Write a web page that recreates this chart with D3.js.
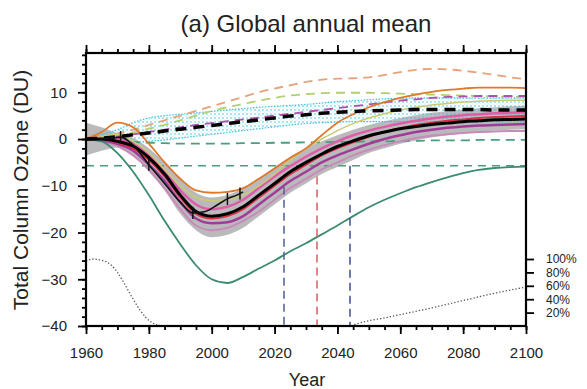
<!DOCTYPE html>
<html>
<head>
<meta charset="utf-8">
<script src="https://cdn.jsdelivr.net/npm/d3@7"></script>
<style>
  body { margin: 0; background: #fff; }
  text { font-family: "Liberation Sans", Arial, sans-serif; fill: #222; }
</style>
</head>
<body>
<div id="chart"></div>
<script>
// year grid used by the model curves
const years = [1960,1965,1970,1975,1980,1985,1990,1995,2000,2005,2010,2015,2020,2025,2030,
  2035,2040,2045,2050,2055,2060,2065,2070,2075,2080,2085,2090,2095,2100];

// multi-model mean (black solid) and its spread (grey band)
const meanVals = [0,0,-0.5,-1.5,-4,-7.5,-12,-15.5,-16.5,-16,-14.5,-12,-9.5,-7,-5,-3.2,-1.6,-0.4,0.7,1.5,2.2,2.7,3.1,3.4,3.7,3.9,4.1,4.2,4.3];
const bandLo = [-3.5,-2.5,-1.8,-3.5,-7,-11,-16,-19.5,-21,-20.5,-19,-16.5,-14,-11.5,-9.5,-7.5,-6,-4.5,-3,-2,-1,-0.3,0.3,0.8,1.2,1.5,1.8,2,2.1];
const bandHi = [3.5,2.5,1.2,0.2,-2,-5,-8.5,-11.5,-12.5,-12,-10.5,-8.5,-6,-3.8,-2,-0.5,0.8,2,3,3.8,4.5,5.1,5.6,6,6.3,6.6,6.8,7,7.1];

// individual model curves (solid)
const orangeVals = [0,1.5,3.5,2.5,-1,-5,-8.5,-11,-11.5,-11.3,-10.5,-8.5,-6.3,-4,-2,0.8,3.5,5.3,6.8,7.9,8.8,9.5,10.1,10.5,10.8,11,11,11,10.9];
const oliveVals = [0,0.5,1,-0.5,-3,-6.5,-10,-12.5,-13.2,-13,-12,-10,-7.5,-4.5,-2,0,1.8,3.3,4.5,5.4,6.2,6.8,7.3,7.6,7.9,8.1,8.2,8.3,8.3];
const pinkVals = [0,0.3,0,-1,-3.5,-7,-11,-14,-15,-14.5,-13,-10.5,-8,-5.8,-3.8,-2,-0.5,0.8,1.8,2.6,3.3,3.9,4.4,4.8,5.1,5.3,5.5,5.6,5.7];
const purpleVals = [0,-0.3,-1,-2.5,-5.5,-9,-13.5,-17,-18,-17.8,-16.5,-14,-11.5,-9,-7,-5,-3.5,-2.2,-1,0,0.8,1.5,2,2.4,2.7,2.9,3,3.1,3.2];
const redVals = [0,0,-0.8,-2,-4.5,-8,-12.5,-16,-17,-16.5,-15,-12.5,-10,-7.5,-5.5,-3.5,-2,-0.7,0.5,1.5,2.3,3,3.5,3.9,4.2,4.5,4.7,4.8,4.9];
const mauveVals = [0,-0.5,-1.5,-3.5,-6.5,-10.5,-15,-18.5,-19.5,-19,-17.5,-15.5,-13,-10.5,-8.5,-6.5,-5,-3.5,-2.3,-1.3,-0.5,0.2,0.7,1,1.3,1.5,1.6,1.7,1.7];
const tealVals = [0,-0.5,-3,-7,-12,-17.5,-22.5,-27,-30,-30.8,-29.5,-27.7,-26,-24,-22.3,-20.4,-18.5,-16.5,-14.6,-13,-11.6,-10.3,-9.2,-8.2,-7.3,-6.6,-6.2,-6,-5.9];

// dashed curves
const meanDashVals = [0,0.2,0.5,0.9,1.3,1.7,2.1,2.5,2.9,3.3,3.7,4.1,4.5,4.9,5.2,5.5,5.7,5.9,6,6.1,6.2,6.3,6.3,6.3,6.3,6.3,6.2,6.2,6.2];
const orangeDashVals = [0,0.5,1.2,2,3,4,5,6,7,8,9,10,10.8,11.5,12.2,12.7,12.9,13,13.2,13.7,14.3,14.8,15,14.9,14.6,14.2,13.7,13.2,12.8];
const greenDashVals = [0,0.3,0.8,1.4,2.2,3,4,5,6,6.8,7.5,8.2,8.8,9.3,9.6,9.8,9.9,9.9,9.9,9.8,9.7,9.6,9.5,9.4,9.3,9.2,9.1,9,9];
const purpleDashVals = [0,0.2,0.5,1,1.5,2,2.5,3,3.4,3.8,4.2,4.6,5,5.4,5.8,6.2,6.6,7,7.4,7.8,8.2,8.5,8.8,9,9.1,9.2,9.2,9.2,9.2];
const tealDashVals = [0,0,-0.3,-0.6,-0.8,-0.9,-1,-1,-1,-1,-0.9,-0.9,-0.8,-0.8,-0.7,-0.7,-0.6,-0.6,-0.5,-0.5,-0.4,-0.4,-0.3,-0.3,-0.3,-0.2,-0.2,-0.2,-0.2];

// cyan stippled range around dashed mean
const cyanLo = [0,-0.5,-1,-0.8,-0.5,-0.2,0.2,0.6,1,1.4,1.8,2.2,2.6,3,3.3,3.5,3.6,3.7,3.7,3.7,3.7,3.7,3.7,3.7,3.7,3.7,3.7,3.7,3.7];
const cyanHi = [0,1,2,3.5,4.5,5,5.3,5.6,5.9,6.2,6.5,6.8,7,7.2,7.4,7.7,8,8.2,8.4,8.6,8.7,8.8,8.8,8.8,8.8,8.8,8.8,8.8,8.8];

// 1980 reference level and return dates
const refYears = [1960, 2100];
const refVals = [-5.7, -5.7];
const returnYears = [2023, 2033.5, 2044];
const returnTop = [-10.2, -8, -5.7];

// observations
const obsYears = [1964,1968,1971,1975,1980,1985,1990,1994,1998,2002,2005,2008,2010];
const obsVals = [0,0.2,0.4,-1.3,-5.5,-9.5,-13.5,-15.8,-15.5,-14,-12.8,-12,-11.3];
const obsBarYears = [1971,1980,1994,2005,2009];

// dotted lines on the percent axis
const pctYearsL = [1960,1962,1965,1968,1970,1972,1975,1977,1979,1981,1983,1985,1988];
const pctValsL = [97,100,98,91,80,65,40,25,13,5,1,0,0];
const pctYearsR = [2036,2044,2046,2050,2055,2060,2070,2080,2090,2100];
const pctValsR = [0,0,3,8,12,17,27,38,49,58];

const yTicks = [-40,-30,-20,-10,0,10];
const xTicks = [1960,1980,2000,2020,2040,2060,2080,2100];
const pctTicks = [20,40,60,80,100];

const W = 587, H = 389;
const margin = {top: 53, right: 61, bottom: 63, left: 86};
const iw = W - margin.left - margin.right;
const ih = H - margin.top - margin.bottom;

const svg = d3.select('#chart').append('svg').attr('width', W).attr('height', H);
const g = svg.append('g').attr('transform', `translate(${margin.left},${margin.top})`);

const x = d3.scaleLinear().domain([1960, 2100]).range([0, iw]);
const y = d3.scaleLinear().domain([-40, 18.4]).range([ih, 0]);
const yPct = d3.scaleLinear().domain([0, 100]).range([ih, y(-25.67)]);

// pattern for the cyan stipple
const defs = svg.append('defs');
const pat = defs.append('pattern').attr('id', 'stip').attr('width', 4).attr('height', 4)
  .attr('patternUnits', 'userSpaceOnUse');
pat.append('circle').attr('cx', 1).attr('cy', 1).attr('r', 0.9).attr('fill', '#38c4e4');
pat.append('circle').attr('cx', 3).attr('cy', 3).attr('r', 0.7).attr('fill', '#9adcef');
defs.append('clipPath').attr('id', 'clip').append('rect').attr('width', iw).attr('height', ih);

const plot = g.append('g').attr('clip-path', 'url(#clip)');

const line = (xs, vs) => d3.line().curve(d3.curveMonotoneX)
  .x((d, i) => x(xs[i])).y(d => y(d))(vs);
const band = (lo, hi) => d3.area().curve(d3.curveMonotoneX)
  .x((d, i) => x(years[i])).y0((d, i) => y(lo[i])).y1((d, i) => y(hi[i]))(lo);

// grey spread
plot.append('path').attr('d', band(bandLo, bandHi)).attr('fill', '#a9a9ad').attr('opacity', 0.8);

// cyan stipple range
plot.append('path').attr('d', band(cyanLo, cyanHi)).attr('fill', 'url(#stip)').attr('opacity', 0.65);
[cyanLo, cyanHi].forEach(vs => {
  plot.append('path').attr('d', line(years, vs)).attr('fill', 'none')
    .attr('stroke', '#40bedc').attr('stroke-width', 1.2).attr('stroke-dasharray', '1.5,1.5');
});

// dashed model curves
const dashed = [
  {v: orangeDashVals, c: '#e6a27a'},
  {v: greenDashVals, c: '#b0d070'},
  {v: purpleDashVals, c: '#b050a8'},
  {v: tealDashVals, c: '#4a9e7c'}
];
dashed.forEach(s => {
  plot.append('path').attr('d', line(years, s.v)).attr('fill', 'none')
    .attr('stroke', s.c).attr('stroke-width', 1.8).attr('stroke-dasharray', '9,6');
});

// reference (1980) level
plot.append('path').attr('d', line(refYears, refVals)).attr('fill', 'none')
  .attr('stroke', '#4a9e7c').attr('stroke-width', 1.5).attr('stroke-dasharray', '8,6');

// solid model curves
const solids = [
  {v: mauveVals, c: '#c88ab8', w: 2},
  {v: purpleVals, c: '#a03c98', w: 2.5},
  {v: redVals, c: '#d83048', w: 2},
  {v: pinkVals, c: '#e05ca8', w: 2.5},
  {v: oliveVals, c: '#c8cc70', w: 1.5},
  {v: orangeVals, c: '#e0782c', w: 1.8},
  {v: tealVals, c: '#3a8c6c', w: 1.8}
];
solids.forEach(s => {
  plot.append('path').attr('d', line(years, s.v)).attr('fill', 'none')
    .attr('stroke', s.c).attr('stroke-width', s.w);
});

// return-date markers
const retColors = ['#5a6898', '#d86a6a', '#4a5a94'];
returnYears.forEach((yr, i) => {
  plot.append('line').attr('x1', x(yr)).attr('x2', x(yr))
    .attr('y1', y(returnTop[i])).attr('y2', y(-40))
    .attr('stroke', retColors[i]).attr('stroke-width', 1.6).attr('stroke-dasharray', '8,5');
});

// black dashed and solid means
plot.append('path').attr('d', line(years, meanDashVals)).attr('fill', 'none')
  .attr('stroke', '#000').attr('stroke-width', 3.5).attr('stroke-dasharray', '11,7');
plot.append('path').attr('d', line(years, meanVals)).attr('fill', 'none')
  .attr('stroke', '#000').attr('stroke-width', 3);

// observations
plot.append('path').attr('d', line(obsYears, obsVals)).attr('fill', 'none')
  .attr('stroke', '#111').attr('stroke-width', 1.6);
const obsInterp = d3.scaleLinear().domain(obsYears).range(obsVals);
obsBarYears.forEach(yr => {
  plot.append('line').attr('x1', x(yr)).attr('x2', x(yr))
    .attr('y1', y(obsInterp(yr) - 1.3)).attr('y2', y(obsInterp(yr) + 1.3))
    .attr('stroke', '#111').attr('stroke-width', 1.5);
});

// dotted percent curves
[[pctYearsL, pctValsL], [pctYearsR, pctValsR]].forEach(([xs, vs]) => {
  plot.append('path')
    .attr('d', d3.line().curve(d3.curveMonotoneX).x((d, i) => x(xs[i])).y(d => yPct(d))(vs))
    .attr('fill', 'none').attr('stroke', '#555').attr('stroke-width', 1.3)
    .attr('stroke-dasharray', '1.3,2');
});

// axes
const styleAxis = (sel, fs) => {
  sel.select('.domain').remove();
  sel.selectAll('line').attr('stroke', '#000').attr('stroke-width', 1.8);
  sel.selectAll('text').style('font-size', fs).attr('fill', '#222');
};
g.append('g').call(d3.axisLeft(y).tickValues(d3.range(-40, 19, 2)).tickSize(4).tickFormat(''))
  .call(s => styleAxis(s, '15px'));
g.append('g').call(d3.axisLeft(y).tickValues(yTicks).tickSize(8).tickPadding(11))
  .call(s => styleAxis(s, '15px'));
g.append('g').attr('transform', `translate(0,${ih})`)
  .call(d3.axisBottom(x).tickValues(d3.range(1960, 2101, 5)).tickSize(4).tickFormat(''))
  .call(s => styleAxis(s, '15px'));
g.append('g').attr('transform', `translate(0,${ih})`)
  .call(d3.axisBottom(x).tickValues(xTicks).tickSize(8).tickPadding(13).tickFormat(d3.format('d')))
  .call(s => styleAxis(s, '15px'));
g.append('g')
  .call(d3.axisTop(x).tickValues(d3.range(1960, 2101, 5)).tickSize(4).tickFormat(''))
  .call(s => styleAxis(s, '15px'));
g.append('g')
  .call(d3.axisTop(x).tickValues(xTicks).tickSize(8).tickFormat(''))
  .call(s => styleAxis(s, '15px'));
g.append('g').attr('transform', `translate(${iw},0)`)
  .call(d3.axisRight(yPct).tickValues(pctTicks).tickSize(8).tickPadding(12).tickFormat(d => d + '%'))
  .call(s => styleAxis(s, '12px'));

g.append('rect').attr('width', iw).attr('height', ih)
  .attr('fill', 'none').attr('stroke', '#000').attr('stroke-width', 2.2);

// titles
svg.append('text').attr('x', 306).attr('y', 32).attr('text-anchor', 'middle')
  .style('font-size', '24px').text('(a) Global annual mean');
svg.append('text').attr('x', 307).attr('y', 386).attr('text-anchor', 'middle')
  .style('font-size', '18px').text('Year');
svg.append('text').attr('transform', 'translate(28,190) rotate(-90)').attr('text-anchor', 'middle')
  .style('font-size', '21px').text('Total Column Ozone (DU)');
</script>
</body>
</html>
